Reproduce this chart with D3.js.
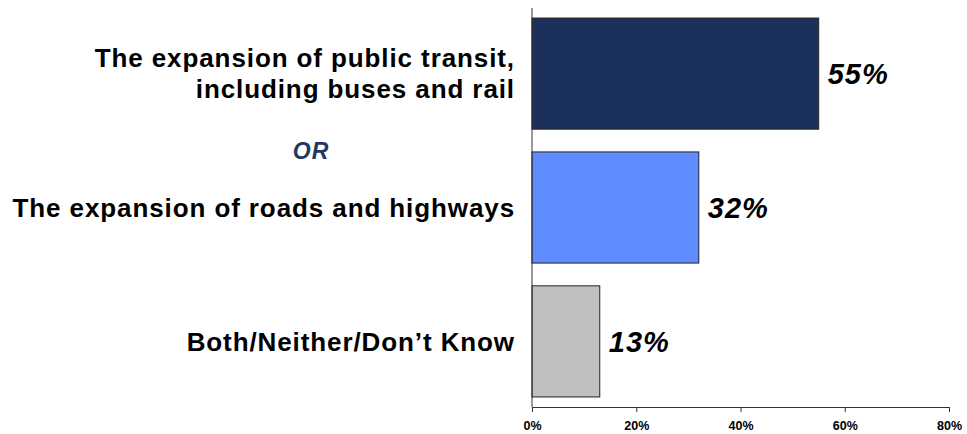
<!DOCTYPE html>
<html>
<head>
<meta charset="utf-8">
<script src="https://cdn.jsdelivr.net/npm/d3@7"></script>
<style>
  html, body { margin: 0; padding: 0; background: #fff; }
  svg { display: block; font-family: Arial, "Liberation Sans", sans-serif; }
</style>
</head>
<body>
<svg id="chart" width="967" height="434"></svg>
<script>
const categories = ["transit", "roads", "other"];
const categoryLabels = [
  ["The expansion of public transit,", "including buses and rail"],
  ["The expansion of roads and highways"],
  ["Both/Neither/Don\u2019t Know"]
];
const values = [55, 32, 13];
const valueLabels = ["55%", "32%", "13%"];
const barColors = ["#1B305B", "#5F8DFF", "#C0C0C0"];
const tickValues = [0, 20, 40, 60, 80];
const tickLabels = ["0%", "20%", "40%", "60%", "80%"];
const separatorText = "OR";

const svg = d3.select("#chart");

const x = d3.scaleLinear().domain([0, 80]).range([532, 949]);
const y = d3.scaleBand().domain(categories).range([8, 407]).paddingInner(0.17).paddingOuter(0.075);

// bars
svg.append("g").selectAll("rect")
  .data(categories)
  .join("rect")
  .attr("x", x(0))
  .attr("y", d => y(d))
  .attr("width", (d, i) => x(values[i]) - x(0))
  .attr("height", y.bandwidth())
  .attr("fill", (d, i) => barColors[i])
  .attr("stroke", "#222")
  .attr("stroke-width", 1);

// value labels
svg.append("g").selectAll("text")
  .data(categories)
  .join("text")
  .attr("x", (d, i) => x(values[i]) + 9)
  .attr("y", d => y(d) + y.bandwidth() / 2)
  .attr("dy", "0.36em")
  .attr("font-size", 29)
  .attr("letter-spacing", "1px")
  .attr("font-weight", "bold")
  .attr("font-style", "italic")
  .attr("fill", "#000")
  .text((d, i) => valueLabels[i]);

// category labels
const lineH = 31;
const catG = svg.append("g");
categories.forEach((c, i) => {
  const lines = categoryLabels[i];
  const cy = y(c) + y.bandwidth() / 2;
  const t = catG.append("text")
    .attr("text-anchor", "end")
    .attr("font-size", 26)
    .attr("letter-spacing", "0.9px")
    .attr("font-weight", "bold")
    .attr("fill", "#000");
  lines.forEach((ln, j) => {
    t.append("tspan")
      .attr("x", 515)
      .attr("y", cy + (j - (lines.length - 1) / 2) * lineH)
      .attr("dy", "0.36em")
      .text(ln);
  });
});

// OR separator
svg.append("text")
  .attr("x", 311)
  .attr("y", y(categories[1]) - 1)
  .attr("dy", "0.36em")
  .attr("text-anchor", "middle")
  .attr("font-size", 23)
  .attr("letter-spacing", "1px")
  .attr("font-weight", "bold")
  .attr("font-style", "italic")
  .attr("fill", "#1F3864")
  .text(separatorText);

// x axis
const xAxis = d3.axisBottom(x)
  .tickValues(tickValues)
  .tickFormat((d, i) => tickLabels[i])
  .tickSizeInner(5)
  .tickSizeOuter(0)
  .tickPadding(9);
const gx = svg.append("g").attr("transform", "translate(0,407)").call(xAxis);
gx.select(".domain").attr("stroke", "#333");
gx.selectAll(".tick line").attr("stroke", "#333");
gx.selectAll(".tick text")
  .attr("font-size", 12.5)
  .attr("font-weight", "bold")
  .attr("font-family", "Arial, 'Liberation Sans', sans-serif")
  .attr("fill", "#000");

// y axis line
svg.append("line")
  .attr("x1", x(0)).attr("x2", x(0))
  .attr("y1", 8).attr("y2", 407)
  .attr("stroke", "#333");
</script>
</body>
</html>
